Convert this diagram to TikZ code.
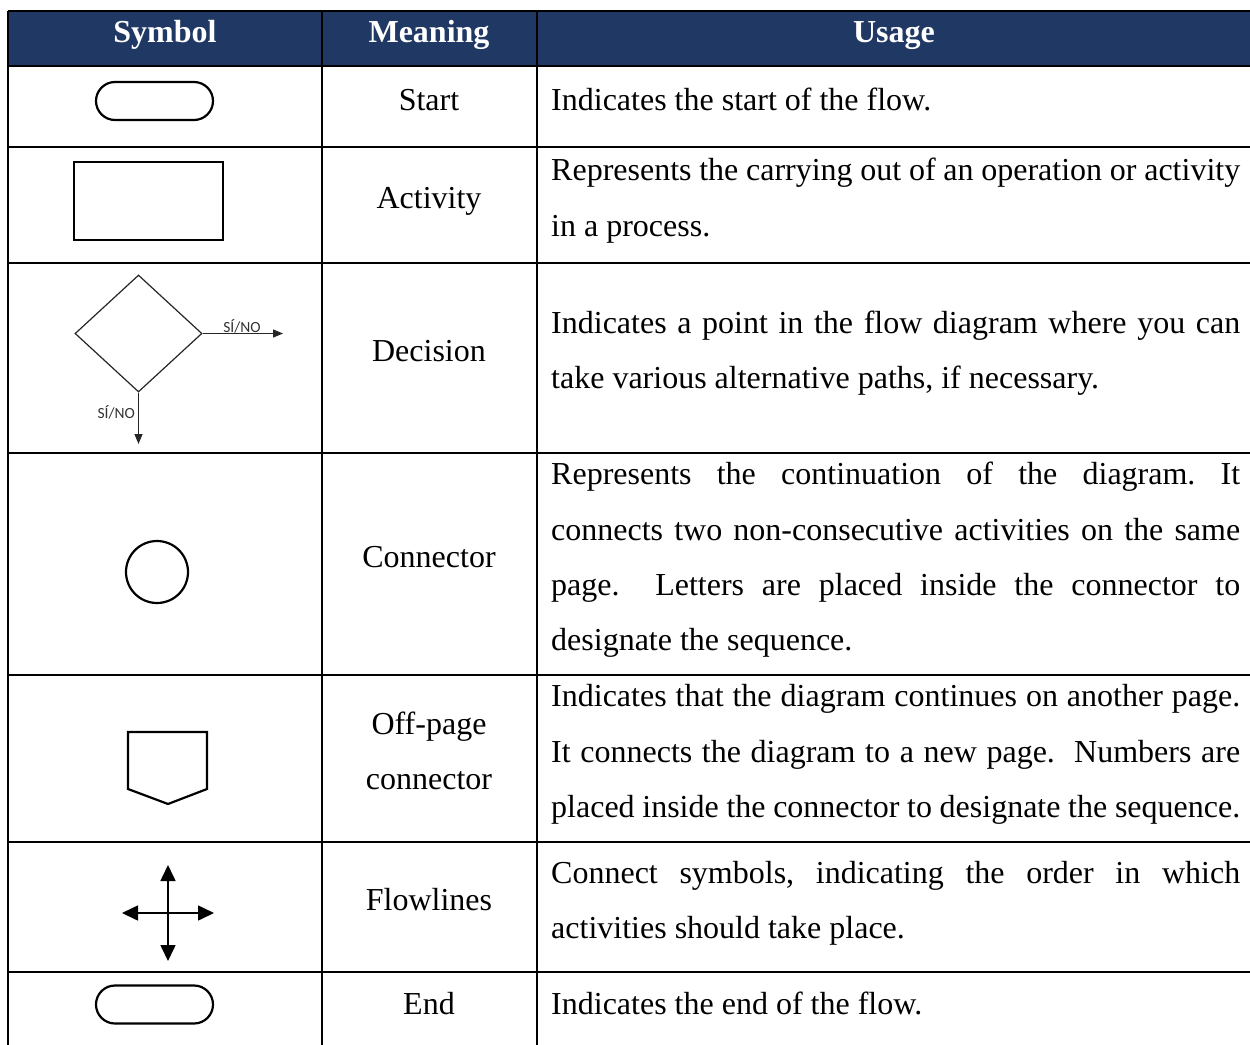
\documentclass[tikz,border=0pt]{standalone}
\usepackage{fontspec}
\setmainfont{Liberation Serif}
\newfontfamily\labelfont{Carlito}
\usetikzlibrary{shapes.geometric,arrows.meta}
\definecolor{headblue}{RGB}{31,56,100}
\newcommand{\bodyfont}{\fontsize{32}{38}\selectfont\frenchspacing}
\newcommand{\jline}[1]{\makebox[689pt][s]{#1}}
\begin{document}
\begin{tikzpicture}[x=1pt,y=-1pt,
  grid/.style={line width=2.4pt,black},
  head/.style={anchor=base,inner sep=0,text=white,font=\bodyfont\bfseries},
  mean/.style={anchor=base,inner sep=0,font=\bodyfont},
  txt/.style={anchor=base west,inner sep=0,font=\bodyfont},
  shapeline/.style={draw=black,line width=2.2pt},
  terminal/.style={shapeline,minimum width=117pt,minimum height=38pt,rounded corners=19pt,inner sep=0},
  thinarrow/.style={line width=1.2pt,-{Triangle[length=10pt,width=8pt]}},
  bigarrow/.style={line width=1.6pt,-{Triangle[length=16pt,width=15pt]}},
  smalllabel/.style={inner sep=0,font=\labelfont\fontsize{15.5}{17}\selectfont,text=black!80}
]
\useasboundingbox (0,0) rectangle (1250,1044);
\fill[white] (0,0) rectangle (1250,1044);

% header band
\fill[headblue] (8,11) rectangle (1252,66);

% table rules
\foreach \y in {11,66,147,263,453,675,842,972}
  \draw[grid] (8,\y) -- (1252,\y);
\foreach \x in {8,322,537}
  \draw[grid] (\x,11) -- (\x,1046);

% header labels
\node[head] (hsym) at (165,42) {Symbol};
\node[head] (hmean) at (429,42) {Meaning};
\node[head] (huse) at (894,42) {Usage};

% meaning column
\node[mean] (m1) at (429,110) {Start};
\node[mean] (m2) at (429,208) {Activity};
\node[mean] (m3) at (429,361) {Decision};
\node[mean] (m4) at (429,567) {Connector};
\node[mean] (m5a) at (429,734) {Off-page};
\node[mean] (m5b) at (429,789) {connector};
\node[mean] (m6) at (429,910) {Flowlines};
\node[mean] (m7) at (429,1014) {End};

% usage column
\node[txt] (u1) at (551,110) {Indicates the start of the flow.};

\node[txt] (u2a) at (551,180) {\jline{Represents the carrying out of an operation or activity}};
\node[txt] (u2b) at (551,236) {in a process.};

\node[txt] (u3a) at (551,333) {\jline{Indicates a point in the flow diagram where you can}};
\node[txt] (u3b) at (551,388) {take various alternative paths, if necessary.};

\node[txt] (u4a) at (551,484) {\jline{Represents the continuation of the diagram. It}};
\node[txt] (u4b) at (551,540) {\jline{connects two non-consecutive activities on the same}};
\node[txt] (u4c) at (551,595) {\jline{page.\ \ Letters are placed inside the connector to}};
\node[txt] (u4d) at (551,650) {designate the sequence.};

\node[txt] (u5a) at (551,706) {\jline{Indicates that the diagram continues on another page.}};
\node[txt] (u5b) at (551,762) {\jline{It connects the diagram to a new page.\ \ Numbers are}};
\node[txt] (u5c) at (551,817) {\jline{placed inside the connector to designate the sequence.}};

\node[txt] (u6a) at (551,883) {\jline{Connect symbols, indicating the order in which}};
\node[txt] (u6b) at (551,938) {activities should take place.};

\node[txt] (u7) at (551,1014) {Indicates the end of the flow.};

% symbol column: start terminal
\node[terminal] (start) at (154.5,101) {};

% activity box
\node[shapeline,minimum width=149pt,minimum height=78pt,inner sep=0] (act) at (148.5,201) {};

% decision diamond with its two exits
\node[diamond,draw=black!85,line width=1.2pt,minimum width=127pt,minimum height=117pt,inner sep=0] (dec) at (138.5,333.5) {};
\coordinate (decR) at (283,333.5);
\coordinate (decD) at (138.5,444);
\draw[thinarrow,black!85] (dec.east) -- (decR);
\draw[thinarrow,black!85] (dec.south) -- (decD);
\node[smalllabel,anchor=base] (lblR) at (242,332.5) {SÍ/NO};
\node[smalllabel,anchor=base east] (lblD) at (135,418) {SÍ/NO};

% connector circle
\node[circle,shapeline,minimum size=62pt,inner sep=0] (conn) at (157,572) {};

% off-page connector
\draw[shapeline,line join=miter] (128,732) -- (207,732) -- (207,789) -- (168,804) -- (128,789) -- cycle;

% flowlines cross
\coordinate (fc) at (168,913);
\coordinate (fu) at (168,865);
\coordinate (fd) at (168,961);
\coordinate (fl) at (122,913);
\coordinate (fr) at (214,913);
\draw[bigarrow] (fc) -- (fu);
\draw[bigarrow] (fc) -- (fd);
\draw[bigarrow] (fc) -- (fl);
\draw[bigarrow] (fc) -- (fr);

% end terminal
\node[terminal] (endt) at (154.5,1004.5) {};
\end{tikzpicture}
\end{document}
